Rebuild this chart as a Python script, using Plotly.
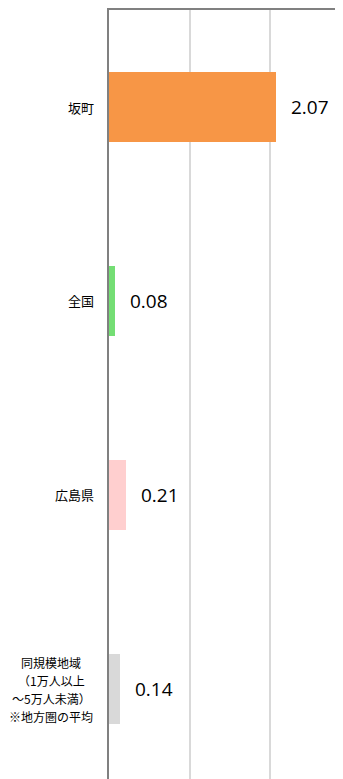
import plotly.graph_objects as go

categories = ["坂町", "全国", "広島県", "同規模地域"]
label_lines = [
    ["坂町"],
    ["全国"],
    ["広島県"],
    ["同規模地域", "（1万人以上", "～5万人未満）", "※地方圏の平均"],
]
values = [2.07, 0.08, 0.21, 0.14]
value_labels = ["2.07", "0.08", "0.21", "0.14"]
colors = ["#F79646", "#74DE74", "#FFCFCF", "#D9D9D9"]

fig = go.Figure()
fig.add_trace(go.Bar(
    y=categories, x=values, orientation="h",
    marker=dict(color=colors, line=dict(width=0)),
    width=0.356, hoverinfo="skip",
))

for cat, v, t in zip(categories, values, value_labels):
    fig.add_annotation(x=v, y=cat, xref="x", yref="y", text=t, showarrow=False,
                       xanchor="left", xshift=13,
                       font=dict(family="Open Sans", size=19, color="#000000"))

label_font = dict(family="Noto Sans CJK JP", size=13, color="#000000")
multi_font = dict(family="Noto Sans CJK JP", size=12, color="#000000")
line_gap = 18
for cat, lines in zip(categories, label_lines):
    n = len(lines)
    if n == 1:
        fig.add_annotation(x=0, y=cat, xref="paper", yref="y", text=lines[0],
                           showarrow=False, xanchor="right", xshift=-13, font=label_font)
    else:
        for i, ln in enumerate(lines):
            fig.add_annotation(x=0, y=cat, xref="paper", yref="y", text=ln,
                               showarrow=False, xanchor="center", xshift=-58,
                               borderpad=0,
                               yshift=((n - 1) / 2 - i) * line_gap - 1, font=multi_font)

fig.update_layout(
    width=335, height=771,
    margin=dict(l=101, r=0, t=2, b=0),
    paper_bgcolor="white", plot_bgcolor="white",
    showlegend=False,
    bargap=0,
)
fig.update_xaxes(range=[0, 2.9], side="top", showticklabels=False, ticks="",
                 showgrid=True, gridcolor="#D9D9D9", gridwidth=2, dtick=1,
                 showline=True, linecolor="#808080", linewidth=2, zeroline=False)
fig.update_yaxes(range=[3.464, -0.5], showticklabels=False, ticks="",
                 showline=True, linecolor="#808080", linewidth=2, showgrid=False)

fig.write_html("out.html")
